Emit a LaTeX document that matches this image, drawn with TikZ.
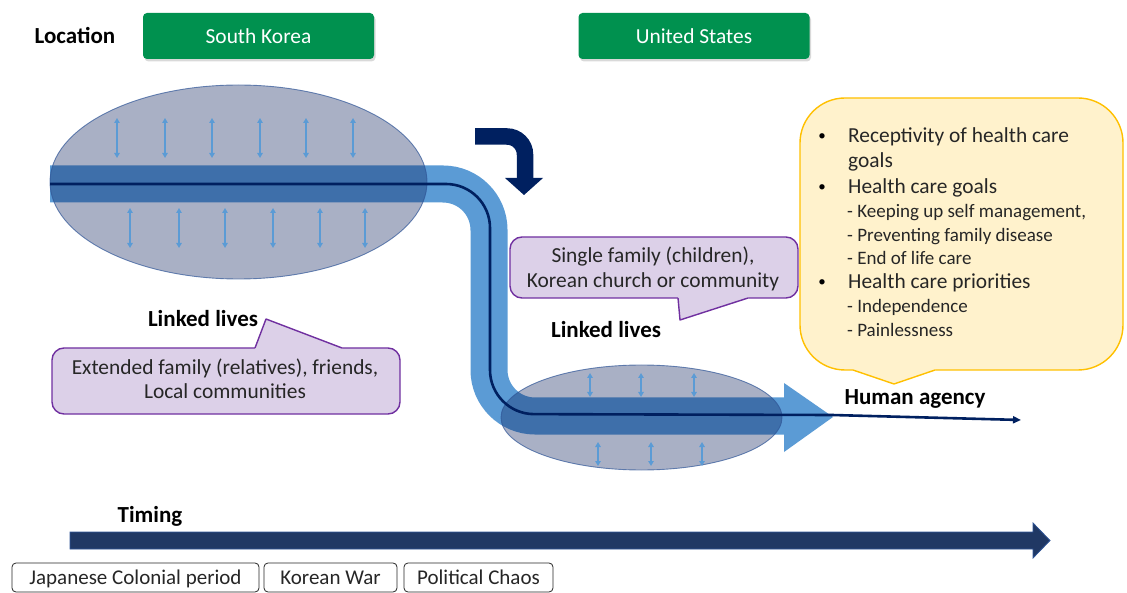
\documentclass[tikz,border=0pt]{standalone}
\usepackage{fontspec}
\setmainfont{Carlito}
\usetikzlibrary{arrows.meta,shadows,shapes.geometric}
\definecolor{kgreen}{RGB}{0,145,79}
\definecolor{bandcol}{RGB}{91,155,213}
\definecolor{ellcol}{RGB}{10,30,90}
\definecolor{ellline}{RGB}{47,85,151}
\definecolor{navyline}{RGB}{0,32,96}
\definecolor{tlcol}{RGB}{32,56,100}
\definecolor{lav}{RGB}{220,208,232}
\definecolor{purp}{RGB}{112,48,160}
\definecolor{yfill}{RGB}{255,242,204}
\definecolor{yline}{RGB}{255,192,0}
\definecolor{txtcol}{RGB}{38,38,38}
\begin{document}
\begin{tikzpicture}[x=1pt,y=-1pt,
  lbl/.style={font=\fontsize{23}{27}\selectfont\bfseries, text=black, inner sep=0pt},
  txt/.style={font=\fontsize{21.4}{25}\selectfont, text=txtcol, inner sep=0pt},
  subtxt/.style={font=\fontsize{19}{23}\selectfont, text=txtcol, inner sep=0pt},
  bul/.style={font=\fontsize{15}{18}\selectfont, text=black, inner sep=0pt},
  greenbox/.style={fill=kgreen, rounded corners=4pt, minimum width=231pt, minimum height=46pt,
    inner sep=0pt, text=white, font=\fontsize{21.4}{25}\selectfont,
    drop shadow={opacity=0.3, shadow xshift=1.5pt, shadow yshift=-2.5pt}},
  periodbox/.style={draw=black!85, fill=white, rounded corners=4pt, line width=0.8pt,
    minimum height=29pt, inner sep=0pt, font=\fontsize{21}{25}\selectfont, text=txtcol,
    text height=16pt, text depth=2pt},
  band/.style={draw=bandcol, line width=37pt},
  ellipsebox/.style={ellipse, fill=ellcol, fill opacity=0.35, draw=ellline, draw opacity=0.7,
    line width=0.9pt, inner sep=0pt},
  tiny/.style={draw=bandcol, line width=1.5pt, {Triangle[length=5pt,width=5.5pt]}-{Triangle[length=5pt,width=5.5pt]}},
  agency/.style={draw=navyline, line width=2.6pt, line join=round},
  lavbox/.style={draw=purp, fill=lav, line width=1.4pt, rounded corners=12pt},
  lavtail/.style={draw=purp, line width=1.4pt, line join=round},
  ybox/.style={draw=yline, fill=yfill, line width=1.4pt, rounded corners=45pt},
]
\useasboundingbox (0,0) rectangle (1127,593);

% ---- top labels
\node[lbl, anchor=base] (loc) at (75,44) {Location};
\node[greenbox] (sk) at (258.5,36) {South Korea};
\node[greenbox] (us) at (694,36) {United States};

% ---- main life-course band
\coordinate (b0) at (50,184);
\coordinate (b1) at (489,184);
\coordinate (b2) at (489,416);
\coordinate (b3) at (786,416);
\draw[band, rounded corners=46pt] (b0) -- (b1) -- (b2) -- (b3);
\fill[bandcol] (784,383) -- (833,417) -- (784,452) -- cycle;

% ---- ellipses
\node[ellipsebox, minimum width=377pt, minimum height=194pt] (e1) at (238.5,182) {};
\node[ellipsebox, minimum width=281pt, minimum height=105pt] (e2) at (641.5,417.5) {};

% ---- small arrows
\foreach \x in {117,165,212,260,306,353} \draw[tiny] (\x,118) -- (\x,158);
\foreach \x in {130,179,225,273,320,365} \draw[tiny] (\x,208) -- (\x,248);
\foreach \x in {590,641,694} \draw[tiny] (\x,373) -- (\x,397);
\foreach \x in {598,651,702} \draw[tiny] (\x,442) -- (\x,466);

% ---- dark centre line / human agency
\coordinate (c3) at (832,415);
\coordinate (ha) at (1021,420);
\draw[agency, rounded corners=44pt] (50,184) -- (490,184) -- (490,414) -- (c3);
\draw[agency, -{Triangle[length=8pt,width=7pt]}] (c3) -- (ha);
\node[lbl, anchor=base] (hal) at (915,405) {Human agency};

% ---- bent migration arrow
\draw[navyline, line width=16.5pt, rounded corners=18pt] (475,136.5) -- (525,136.5) -- (525,179);
\fill[navyline] (505,178) -- (543,178) -- (524,195) -- cycle;

% ---- upper purple callout
\draw[lavbox] (510,237) rectangle (798,298);
\fill[lav] (678,290) -- (678,298.8) -- (680,320) -- (748,298.8) -- (748,290) -- cycle;
\draw[lavtail] (678,298) -- (680,320) -- (748,298);
\node[txt, anchor=base] (u1) at (653,263) {Single family (children),};
\node[txt, anchor=base] (u2) at (653,288) {Korean church or community};
\node[lbl, anchor=base] (ll2) at (606,338) {Linked lives};

% ---- lower purple callout
\draw[lavbox] (52,348) rectangle (400,414);
\fill[lav] (255,357) -- (255,347.2) -- (266,319) -- (342,347.2) -- (342,357) -- cycle;
\draw[lavtail] (255,348) -- (266,319) -- (342,348);
\node[txt, anchor=base] (l1) at (225,375) {Extended family (relatives), friends,};
\node[txt, anchor=base] (l2) at (225,399) {Local communities};
\node[lbl, anchor=base] (ll1) at (203,327) {Linked lives};

% ---- yellow callout
\draw[ybox] (800,98) rectangle (1123,370);
\fill[yfill] (853,362) -- (853,370.8) -- (894,384) -- (935,370.8) -- (935,362) -- cycle;
\draw[draw=yline, line width=1.4pt, line join=round] (853,370) -- (894,384) -- (935,370);
\node[bul, anchor=base] (bu1) at (822,141) {\textbullet};
\node[bul, anchor=base] (bu2) at (822,192) {\textbullet};
\node[bul, anchor=base] (bu3) at (822,287) {\textbullet};
\node[txt, anchor=base west] (y1) at (848,143) {Receptivity of health care};
\node[txt, anchor=base west] (y2) at (848,168) {goals};
\node[txt, anchor=base west] (y3) at (848,194) {Health care goals};
\node[subtxt, anchor=base west] (y4) at (847,218) {- Keeping up self management,};
\node[subtxt, anchor=base west] (y5) at (847,242) {- Preventing family disease};
\node[subtxt, anchor=base west] (y6) at (847,265) {- End of life care};
\node[txt, anchor=base west] (y7) at (848,289) {Health care priorities};
\node[subtxt, anchor=base west] (y8) at (847,313) {- Independence};
\node[subtxt, anchor=base west] (y9) at (847,337) {- Painlessness};

% ---- timing
\node[lbl, anchor=base] (tm) at (150,522) {Timing};
\draw[fill=tlcol, draw=ellline, line width=0.8pt, line join=miter]
  (70,532) -- (1033,532) -- (1033,523) -- (1050,540.5) -- (1033,558) -- (1033,549) -- (70,549) -- cycle;
\node[periodbox, minimum width=247pt] (p1) at (135.5,577.5) {Japanese Colonial period};
\node[periodbox, minimum width=133pt] (p2) at (330.5,577.5) {Korean War};
\node[periodbox, minimum width=149pt] (p3) at (478.5,577.5) {Political Chaos};
\end{tikzpicture}
\end{document}
